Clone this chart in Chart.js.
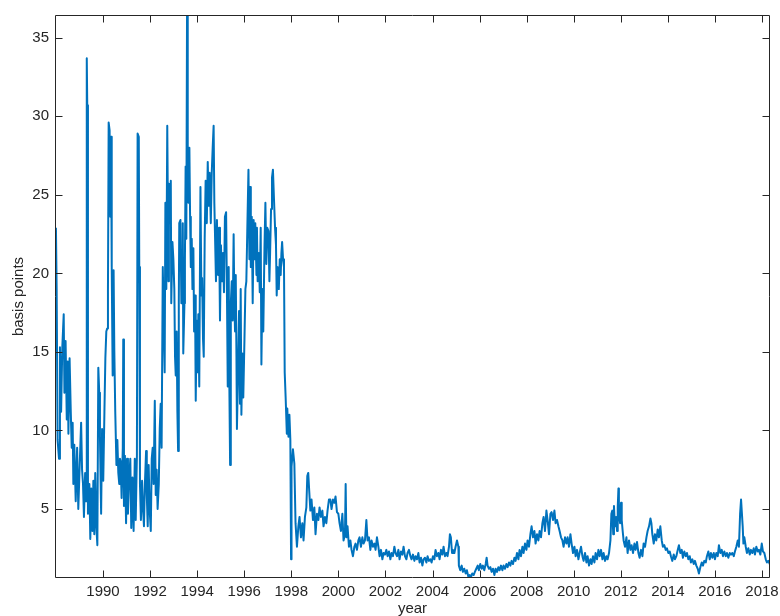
<!DOCTYPE html>
<html><head><meta charset="utf-8">
<style>html,body{margin:0;padding:0;background:#fff;}#wrap{width:780px;height:616px;}</style>
<script src="https://cdn.jsdelivr.net/npm/chart.js@4/dist/chart.umd.min.js"></script>
</head><body><div id="wrap"><canvas id="c" width="780" height="616"></canvas></div>
<script>
// ---- data ----
const xTicks = [1990,1992,1994,1996,1998,2000,2002,2004,2006,2008,2010,2012,2014,2016,2018];
const yTicks = [5,10,15,20,25,30,35];
const xLimits = [1987.96, 2018.34];
const yLimits = [0.61, 36.45];

const yearsEarly = [1988.00,1988.03,1988.07,1988.13,1988.17,1988.22,1988.27,1988.33,1988.36,1988.41,1988.46,1988.50,1988.53,1988.58,1988.63,1988.67,1988.71,1988.74,1988.78,1988.84,1988.90,1988.95,1989.01,1989.07,1989.11,1989.15,1989.19,1989.24,1989.28,1989.31,1989.33,1989.36,1989.42,1989.46,1989.50,1989.55,1989.59,1989.63,1989.67,1989.72,1989.76,1989.80,1989.84,1989.87,1989.92,1989.96,1990.01,1990.06,1990.10,1990.14,1990.18,1990.21,1990.24,1990.28,1990.31,1990.34,1990.37,1990.41,1990.45,1990.48,1990.52,1990.57,1990.61,1990.65,1990.69,1990.72,1990.75,1990.79,1990.84,1990.86,1990.89,1990.93,1990.98,1991.02,1991.06,1991.10,1991.16,1991.20,1991.25,1991.30,1991.35,1991.39,
1991.44,1991.47,1991.52,1991.54,1991.57,1991.61,1991.66,1991.70,1991.74,1991.78,1991.83,1991.86,1991.90,1991.94,1991.98,1992.03,1992.07,1992.11,1992.15,1992.20,1992.24,1992.28,1992.32,1992.37,1992.41,1992.45,1992.49,1992.54,1992.58,1992.62,1992.65,1992.69,1992.73,1992.78,1992.80,1992.85,1992.88,1992.90,1992.95,1992.99,1993.03,1993.06,1993.09,1993.13,1993.16,1993.19,1993.22,1993.24,1993.29,1993.33,1993.36,1993.39,1993.41,1993.46,1993.48,1993.51,1993.54,1993.57,1993.60,1993.63,1993.67,1993.70,1993.73,1993.77,1993.80,1993.84,1993.87,1993.91,1993.94,1993.98,1994.02,1994.05,1994.09,1994.14,1994.18,1994.21,1994.25,1994.28,1994.32,1994.36,1994.41,1994.45,1994.49,1994.53,1994.58,1994.62,1994.66,1994.70,1994.73,
1994.80,1994.84,1994.89,1994.93,1994.97,1995.01,1995.06,1995.10,1995.14,1995.18,1995.23,1995.27,1995.30,1995.34,1995.37,1995.40,1995.43,1995.47,1995.51,1995.55,1995.58,1995.61,1995.64,1995.67,1995.69,1995.74,1995.78,1995.82,1995.85,1995.88,1995.92,1995.96,1996.01,1996.05,1996.09,1996.13,1996.18,1996.22,1996.25,1996.28,1996.32,1996.36,1996.40,1996.45,1996.47,1996.52,1996.54,1996.57,1996.62,1996.66,1996.70,1996.73,1996.77,1996.81,1996.86,1996.90,1996.94,1996.98,1997.03,1997.07,1997.10,1997.14,1997.18,1997.22,1997.27,1997.31,1997.35,1997.38,1997.42,1997.47,1997.51,1997.55,1997.58,1997.61,1997.65,1997.69,1997.72,1997.76,1997.81,1997.83,1997.88,1997.92,1997.96,1997.99];
const bpEarly = [22.9,19.0,9.4,8.2,15.3,11.2,15.3,17.4,12.4,15.7,10.7,14.4,9.8,14.6,11.2,8.9,10.5,6.6,9.1,5.5,8.9,5.0,7.8,10.5,7.5,6.6,4.5,7.3,5.5,33.7,30.7,4.7,6.6,3.1,6.3,3.6,6.8,3.4,7.3,3.8,2.7,14.0,12.4,9.6,4.7,10.1,6.8,11.2,14.6,16.3,16.5,18.8,29.6,29.1,23.6,28.7,20.4,13.5,20.2,15.1,11.2,7.8,9.4,7.3,6.6,8.2,8.0,5.7,8.9,15.8,5.2,8.4,4.1,8.2,4.7,6.6,8.2,3.8,7.0,3.6,8.2,4.3,
8.4,28.9,28.7,20.4,6.6,4.3,6.8,5.0,3.9,6.6,8.7,5.9,3.9,7.8,5.0,3.6,8.2,8.9,6.6,11.9,5.9,7.5,5.0,6.6,10.1,11.7,8.9,20.4,17.0,13.7,24.5,19.0,29.4,19.5,25.7,23.2,25.9,18.1,22.0,20.9,19.0,14.7,13.5,16.3,11.2,8.7,18.1,23.2,23.4,18.1,20.4,23.2,14.9,18.1,20.9,26.8,22.2,36.5,28.2,24.5,28.0,23.6,20.4,22.2,19.0,21.6,16.3,18.6,11.9,17.0,13.7,17.4,12.8,25.5,18.6,19.7,15.8,14.7,22.2,25.9,23.2,27.1,24.3,26.4,23.2,26.4,28.0,29.4,24.5,
19.5,23.4,19.9,22.9,17.0,21.8,19.5,21.3,18.8,23.6,23.9,18.1,12.8,20.4,12.6,7.8,18.1,19.5,17.0,22.5,18.1,16.3,19.9,14.7,10.1,14.0,17.6,11.7,19.0,11.0,14.9,12.1,15.8,19.0,19.5,22.7,26.6,20.9,25.5,20.4,23.6,18.1,23.4,20.9,23.2,19.9,22.9,19.5,21.3,18.8,22.9,14.2,19.0,16.3,21.6,24.5,20.6,22.9,22.7,19.5,21.3,24.1,26.1,26.6,24.5,22.9,21.8,18.6,20.4,19.0,20.9,19.9,21.3,22.0,20.9,20.4,13.7,12.1,9.8,11.4,9.6,11.0,9.4,1.8];

const yearsLate = [1998.01,1998.07,1998.13,1998.18,1998.24,1998.30,1998.35,1998.41,1998.47,1998.52,1998.58,1998.64,1998.68,1998.72,1998.76,1998.81,1998.86,1998.92,1998.98,1999.03,1999.09,1999.15,1999.20,1999.26,1999.32,1999.37,1999.43,1999.49,1999.54,1999.60,1999.66,1999.71,1999.77,1999.83,1999.88,1999.94,2000.00,2000.05,2000.11,2000.17,2000.22,2000.28,2000.31,2000.34,2000.39,2000.45,2000.51,2000.56,2000.62,2000.68,2000.73,2000.79,2000.85,2000.90,2000.96,2001.02,2001.07,2001.13,2001.19,2001.24,2001.30,2001.36,2001.41,2001.47,2001.53,2001.58,2001.64,2001.70,2001.75,2001.81,2001.87,2001.92,2001.98,2002.04,2002.09,2002.15,2002.21,2002.26,2002.32,2002.38,2002.43,2002.49,2002.55,2002.60,2002.66,2002.72,2002.77,2002.83,2002.89,2002.94,2003.00,2003.06,2003.11,2003.17,2003.23,2003.28,2003.34,2003.40,2003.45,2003.51,2003.57,2003.62,2003.68,2003.74,2003.79,2003.85,2003.91,2003.96,2004.02,2004.08,2004.13,2004.19,2004.25,2004.30,2004.36,2004.42,2004.47,2004.53,
2004.59,2004.64,2004.70,2004.74,2004.78,2004.83,2004.87,2004.93,2004.98,2005.04,2005.10,2005.12,2005.18,2005.24,2005.29,2005.35,2005.41,2005.46,2005.52,2005.58,2005.63,2005.69,2005.75,2005.80,2005.86,2005.92,2005.97,2006.03,2006.09,2006.14,2006.20,2006.26,2006.30,2006.34,2006.40,2006.46,2006.51,2006.57,2006.63,2006.68,2006.74,2006.80,2006.85,2006.91,2006.97,2007.02,2007.08,2007.14,2007.19,2007.25,2007.31,2007.36,2007.42,2007.48,2007.53,2007.59,2007.65,2007.70,2007.76,2007.82,2007.87,2007.93,2007.99,2008.04,2008.10,2008.16,2008.21,2008.27,2008.33,2008.38,2008.44,2008.50,2008.55,2008.61,2008.67,2008.72,2008.78,2008.84,2008.89,2008.95,2009.01,2009.06,2009.12,2009.18,2009.23,2009.29,2009.35,2009.40,2009.46,2009.52,2009.57,2009.63,2009.69,2009.74,2009.80,2009.86,2009.91,2009.97,2010.03,2010.08,2010.14,2010.20,2010.25,2010.31,2010.37,2010.42,2010.48,2010.54,2010.59,2010.65,2010.71,2010.76,2010.82,2010.88,2010.93,2010.99,2011.05,2011.10,2011.16,2011.22,2011.27,2011.33,
2011.39,2011.44,2011.50,2011.56,2011.60,2011.64,2011.68,2011.71,2011.75,2011.80,2011.84,2011.87,2011.90,2011.92,2011.97,2012.01,2012.04,2012.08,2012.12,2012.18,2012.24,2012.29,2012.35,2012.41,2012.46,2012.52,2012.58,2012.63,2012.69,2012.75,2012.80,2012.86,2012.92,2012.97,2013.03,2013.09,2013.14,2013.20,2013.26,2013.30,2013.34,2013.40,2013.45,2013.51,2013.57,2013.62,2013.68,2013.74,2013.79,2013.85,2013.91,2013.96,2014.02,2014.08,2014.13,2014.19,2014.25,2014.30,2014.36,2014.42,2014.47,2014.53,2014.59,2014.64,2014.70,2014.76,2014.81,2014.87,2014.93,2014.98,2015.04,2015.10,2015.15,2015.21,2015.27,2015.32,2015.38,2015.44,2015.49,2015.55,2015.61,2015.66,2015.72,2015.78,2015.83,2015.89,2015.95,2016.00,2016.06,2016.12,2016.17,2016.23,2016.29,2016.34,2016.40,2016.46,2016.51,2016.57,2016.63,2016.68,2016.74,2016.80,2016.85,2016.91,2016.97,2017.02,2017.07,2017.11,2017.15,2017.18,2017.21,2017.25,2017.31,2017.36,2017.42,2017.48,2017.53,2017.59,2017.65,2017.70,2017.76,2017.82,2017.87,2017.93,2017.99,2018.04,2018.10,2018.16,2018.21,2018.27,2018.33];
const bpLate = [7.7,8.8,7.9,4.1,2.6,3.9,4.5,3.2,4.1,3.0,4.5,5.1,7.1,7.3,6.2,4.9,5.6,4.3,5.1,3.4,4.7,4.3,5.1,4.5,4.9,3.9,4.5,4.1,4.9,5.6,5.6,5.0,5.6,5.4,5.8,4.8,4.7,4.1,3.6,4.7,3.0,3.4,6.6,3.2,3.9,2.6,3.0,2.4,2.0,2.6,2.8,2.4,3.0,3.2,2.6,3.2,2.8,3.0,4.3,3.0,3.2,2.4,3.0,2.6,2.8,2.4,3.2,2.6,2.0,2.4,1.8,2.2,2.1,2.4,2.0,2.3,1.8,2.2,2.0,2.6,2.2,2.0,2.4,1.8,2.3,2.1,2.6,2.0,1.8,2.2,2.4,2.0,1.8,2.1,1.7,2.0,1.8,2.2,1.6,1.9,1.4,1.8,1.9,1.6,2.0,1.7,1.8,1.6,2.0,1.8,2.4,2.0,2.2,1.8,2.4,2.1,2.6,2.0,
2.2,2.0,2.6,3.4,3.2,2.2,2.4,2.2,2.6,3.0,2.6,1.4,1.1,1.4,1.0,1.2,0.9,1.1,0.7,0.8,0.65,0.9,0.8,1.0,1.2,1.4,1.1,1.5,1.2,1.4,1.1,1.5,1.9,1.4,1.2,1.3,1.0,1.2,0.8,1.2,1.0,1.3,1.1,1.4,1.1,1.4,1.2,1.5,1.3,1.6,1.4,1.7,1.5,1.9,1.7,2.2,1.8,2.4,2.0,2.6,2.2,2.8,2.4,3.0,2.6,3.4,3.9,3.2,3.6,2.8,3.4,3.0,3.6,3.2,4.1,4.5,3.6,4.9,4.3,3.4,4.7,4.8,4.3,4.9,4.1,4.3,3.9,3.6,3.2,3.0,2.6,3.2,2.8,3.2,2.6,3.4,2.8,2.2,2.6,2.0,2.4,1.8,2.2,2.6,2.0,1.7,2.2,1.6,2.0,1.4,1.8,1.5,2.0,1.6,2.2,1.8,2.4,2.0,2.4,1.8,2.2,1.7,
2.0,1.8,2.2,3.0,4.7,4.9,3.4,5.2,3.9,4.5,3.6,5.1,6.3,4.7,4.1,5.4,4.3,3.6,3.0,2.6,3.2,2.2,3.0,2.4,2.7,2.2,2.8,2.4,2.9,2.2,1.9,2.4,2.0,2.8,2.6,3.2,3.6,3.9,4.4,4.1,3.4,2.8,3.4,3.0,3.7,3.2,3.9,3.0,2.6,2.7,2.4,2.5,2.2,2.3,2.0,1.7,2.1,1.8,2.0,2.4,2.7,2.2,2.4,1.9,2.3,2.0,2.2,1.8,2.0,1.6,1.8,1.5,1.7,1.4,1.2,0.9,1.3,1.6,1.4,1.7,1.6,2.0,2.3,1.8,2.2,1.9,2.2,1.8,2.2,2.0,2.7,2.2,2.4,2.0,2.3,2.0,2.2,1.9,2.2,2.1,2.2,2.0,2.3,2.6,3.0,2.6,4.7,5.6,5.6,3.9,2.8,3.2,2.6,2.2,2.5,2.1,2.4,2.2,2.5,2.1,2.6,2.3,2.4,2.1,2.8,2.3,2.2,1.8,1.6,1.7,1.5];

// ---- build the chart ----
const points = yearsEarly.map((t,i)=>({x:t,y:bpEarly[i]}))
  .concat(yearsLate.map((t,i)=>({x:t,y:bpLate[i]})));

const AX = '#262626';
const FONT = "'Liberation Sans', Arial, Helvetica, sans-serif";

const boxPlugin = {
  id: 'matlabBox',
  afterDatasetsDraw(chart) {
    const {ctx, chartArea: a, scales: {x, y}} = chart;
    const L = Math.round(a.left) + 0.5, R = Math.round(a.right) - 0.5;
    const T = Math.round(a.top) + 0.5, B = Math.round(a.bottom) - 0.5;
    const len = 7;
    ctx.save();
    ctx.strokeStyle = AX;
    ctx.lineWidth = 1;
    ctx.beginPath();
    ctx.rect(L, T, R - L, B - T);
    xTicks.forEach(v => {
      const p = Math.round(x.getPixelForValue(v)) + 0.5;
      ctx.moveTo(p, B); ctx.lineTo(p, B - len);
      ctx.moveTo(p, T); ctx.lineTo(p, T + len);
    });
    yTicks.forEach(v => {
      const p = Math.round(y.getPixelForValue(v)) + 0.5;
      ctx.moveTo(L, p); ctx.lineTo(L + len, p);
      ctx.moveTo(R, p); ctx.lineTo(R - len, p);
    });
    ctx.stroke();
    ctx.restore();
  }
};

new Chart(document.getElementById('c'), {
  type: 'line',
  data: { datasets: [{
    data: points,
    borderColor: '#0072BD',
    borderWidth: 2,
    borderJoinStyle: 'round',
    pointRadius: 0,
    tension: 0,
    fill: false
  }]},
  options: {
    responsive: false,
    animation: false,
    devicePixelRatio: 1,
    parsing: false,
    layout: { padding: { top: 15, right: 10, left: 0, bottom: 0 } },
    plugins: { legend: { display: false }, tooltip: { enabled: false } },
    scales: {
      x: {
        type: 'linear',
        min: xLimits[0], max: xLimits[1],
        grid: { display: false, drawTicks: false },
        border: { display: false },
        ticks: {
          color: AX, font: { family: FONT, size: 15 }, padding: 5,
          maxRotation: 0, autoSkip: false,
          callback: v => String(v)
        },
        afterBuildTicks: s => { s.ticks = xTicks.map(v => ({value: v})); },
        afterFit: s => { s.height = 38; s.paddingLeft = 0; s.paddingRight = 0; },
        title: { display: true, text: 'year', color: AX, font: { family: FONT, size: 15 }, padding: { top: 0, bottom: -2 } }
      },
      y: {
        type: 'linear',
        min: yLimits[0], max: yLimits[1],
        grid: { display: false, drawTicks: false },
        border: { display: false },
        ticks: {
          color: AX, font: { family: FONT, size: 15 }, padding: 6,
          callback: v => String(v)
        },
        afterBuildTicks: s => { s.ticks = yTicks.map(v => ({value: v})); },
        afterFit: s => { s.width = 55; s.paddingTop = 0; s.paddingBottom = 0; },
        title: { display: true, text: 'basis points', color: AX, font: { family: FONT, size: 15 }, padding: { top: 10, bottom: 0 } }
      }
    }
  },
  plugins: [boxPlugin]
});
</script>
</body></html>
